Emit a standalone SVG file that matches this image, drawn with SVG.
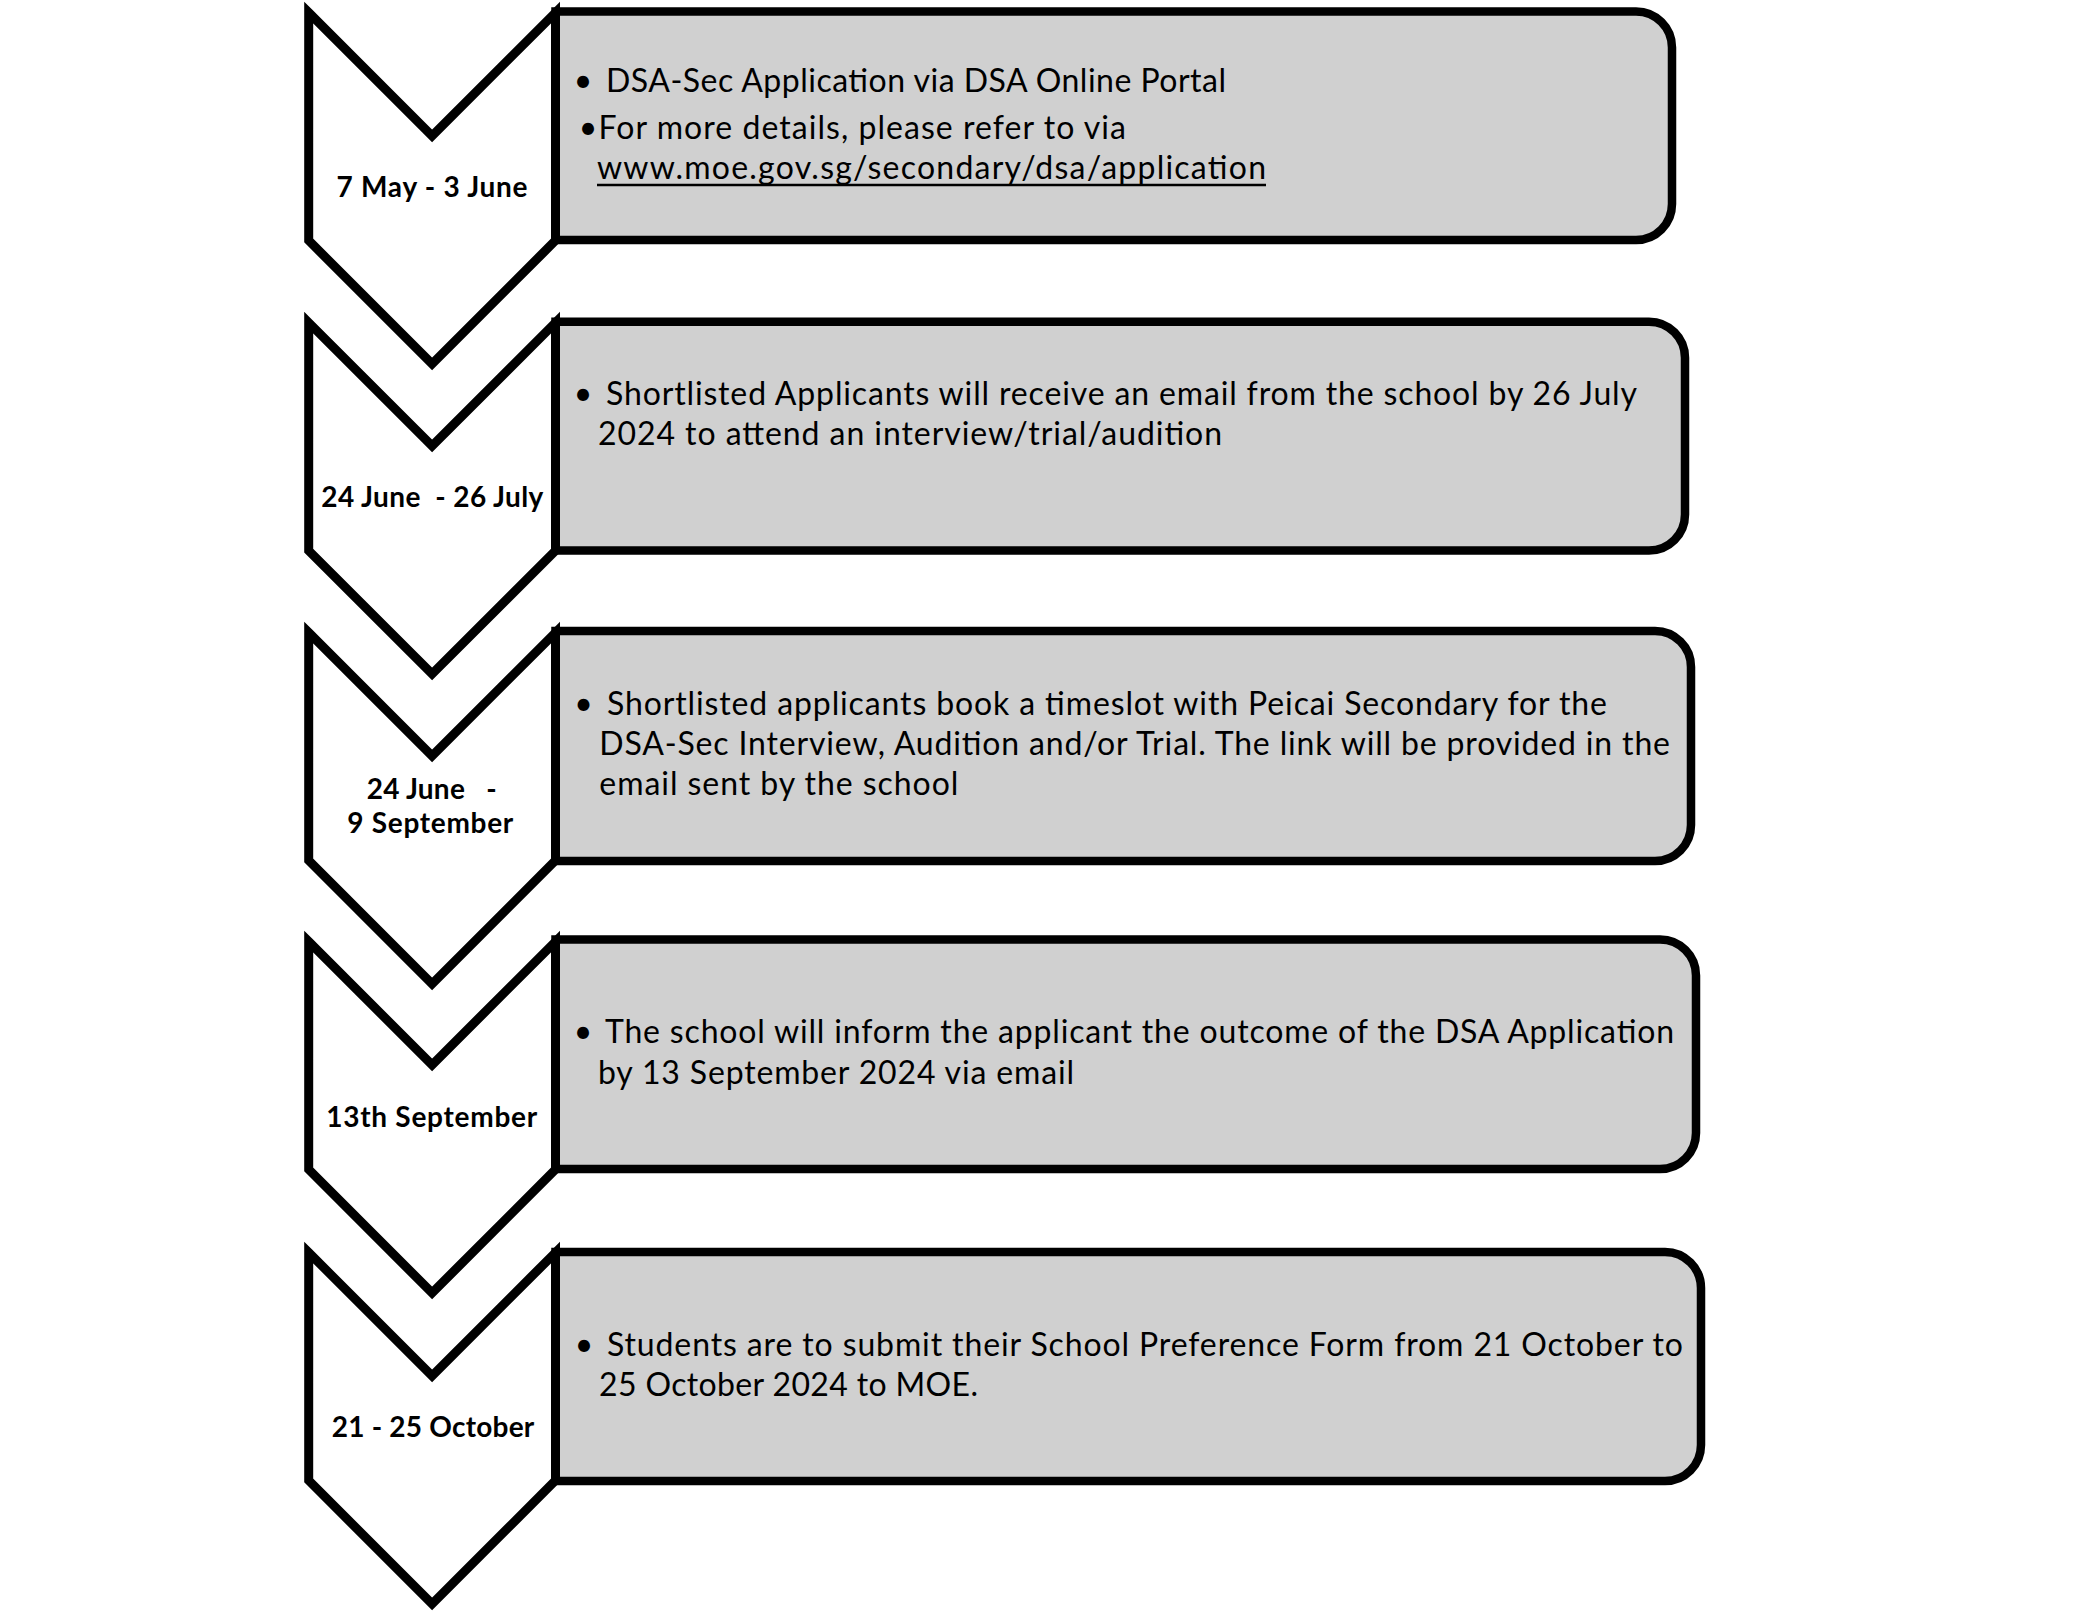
<svg xmlns="http://www.w3.org/2000/svg" width="2085" height="1611" viewBox="0 0 2085 1611">
<style>
.bg{fill:#ffffff}
.chev{fill:#ffffff;stroke:#000000;stroke-width:9;stroke-linejoin:miter;stroke-miterlimit:10}
.box{fill:#d0d0d0;stroke:#000000;stroke-width:8.5}
.lbl{font-family:Lato,"Liberation Sans",sans-serif;font-weight:700;font-size:28px;text-anchor:middle;fill:#000000}
.txt{font-family:Lato,"Liberation Sans",sans-serif;font-size:32px;fill:#000000}
.bul{font-family:Lato,"Liberation Sans",sans-serif;font-size:32px;text-anchor:middle;fill:#000000}
.ul{stroke:#000000;stroke-width:2.5}
</style>
<rect class="bg" x="0" y="0" width="2085" height="1611"/>

<g id="detail-1">
<path class="box" d="M555.5,11.5 H1636 A36,36 0 0 1 1672,47.5 V204 A36,36 0 0 1 1636,240 H555.5 Z"/>
<text class="bul" x="583" y="91.7">•</text>
<text class="txt" x="606" y="91.7" textLength="620">DSA-Sec Application via DSA Online Portal</text>
<text class="bul" x="588" y="139">•</text>
<text class="txt" x="598.5" y="139" textLength="527.5">For more details, please refer to via</text>
<text class="txt" x="597" y="178.5" textLength="669">www.moe.gov.sg/secondary/dsa/application</text>
<line class="ul" x1="597" y1="185" x2="1266" y2="185"/>
</g>
<g id="date-1">
<path class="chev" d="M308.7,12.5 L432.1,135.9 L555.5,12.5 L555.5,240.5 L432.1,363.9 L308.7,240.5 Z"/>
<text class="lbl" x="432" y="196.7" textLength="191">7 May - 3 June</text>
</g>

<g id="detail-2">
<path class="box" d="M555.5,321.8 H1649 A36,36 0 0 1 1685,357.8 V514.5 A36,36 0 0 1 1649,550.5 H555.5 Z"/>
<text class="bul" x="583" y="404.9">•</text>
<text class="txt" x="606" y="404.9" textLength="1031">Shortlisted Applicants will receive an email from the school by 26 July</text>
<text class="txt" x="598" y="444.9" textLength="624">2024 to attend an interview/trial/audition</text>
</g>
<g id="date-2">
<path class="chev" d="M308.7,322.6 L432.1,446 L555.5,322.6 L555.5,550.6 L432.1,674 L308.7,550.6 Z"/>
<text class="lbl" x="432.3" y="507" textLength="222" xml:space="preserve">24 June  - 26 July</text>
</g>

<g id="detail-3">
<path class="box" d="M555.5,631 H1655 A36,36 0 0 1 1691,667 V825 A36,36 0 0 1 1655,861 H555.5 Z"/>
<text class="bul" x="583.5" y="715">•</text>
<text class="txt" x="607" y="715" textLength="1000">Shortlisted applicants book a timeslot with Peicai Secondary for the</text>
<text class="txt" x="599.3" y="755" textLength="1070.7">DSA-Sec Interview, Audition and/or Trial. The link will be provided in the</text>
<text class="txt" x="599.3" y="795" textLength="359">email sent by the school</text>
</g>
<g id="date-3">
<path class="chev" d="M308.7,632.5 L432.1,755.9 L555.5,632.5 L555.5,860.5 L432.1,983.9 L308.7,860.5 Z"/>
<text class="lbl" x="431.7" y="799.3" textLength="130" xml:space="preserve">24 June   -</text>
<text class="lbl" x="430.3" y="833.3" textLength="166">9 September</text>
</g>

<g id="detail-4">
<path class="box" d="M555.5,939.5 H1660 A36,36 0 0 1 1696,975.5 V1133 A36,36 0 0 1 1660,1169 H555.5 Z"/>
<text class="bul" x="583" y="1043">•</text>
<text class="txt" x="605" y="1043" textLength="1069">The school will inform the applicant the outcome of the DSA Application</text>
<text class="txt" x="598" y="1083.5" textLength="476">by 13 September 2024 via email</text>
</g>
<g id="date-4">
<path class="chev" d="M308.7,941.5 L432.1,1064.9 L555.5,941.5 L555.5,1169.5 L432.1,1292.9 L308.7,1169.5 Z"/>
<text class="lbl" x="431.7" y="1126.7" textLength="211">13th September</text>
</g>

<g id="detail-5">
<path class="box" d="M555.5,1252 H1665 A36,36 0 0 1 1701,1288 V1445 A36,36 0 0 1 1665,1481 H555.5 Z"/>
<text class="bul" x="584" y="1355.5">•</text>
<text class="txt" x="607" y="1355.5" textLength="1076">Students are to submit their School Preference Form from 21 October to</text>
<text class="txt" x="599" y="1396" textLength="379">25 October 2024 to MOE.</text>
</g>
<g id="date-5">
<path class="chev" d="M308.7,1252.5 L432.1,1375.9 L555.5,1252.5 L555.5,1480.5 L432.1,1603.9 L308.7,1480.5 Z"/>
<text class="lbl" x="433" y="1437" textLength="202.6">21 - 25 October</text>
</g>

<g id="connectors"></g>
</svg>
